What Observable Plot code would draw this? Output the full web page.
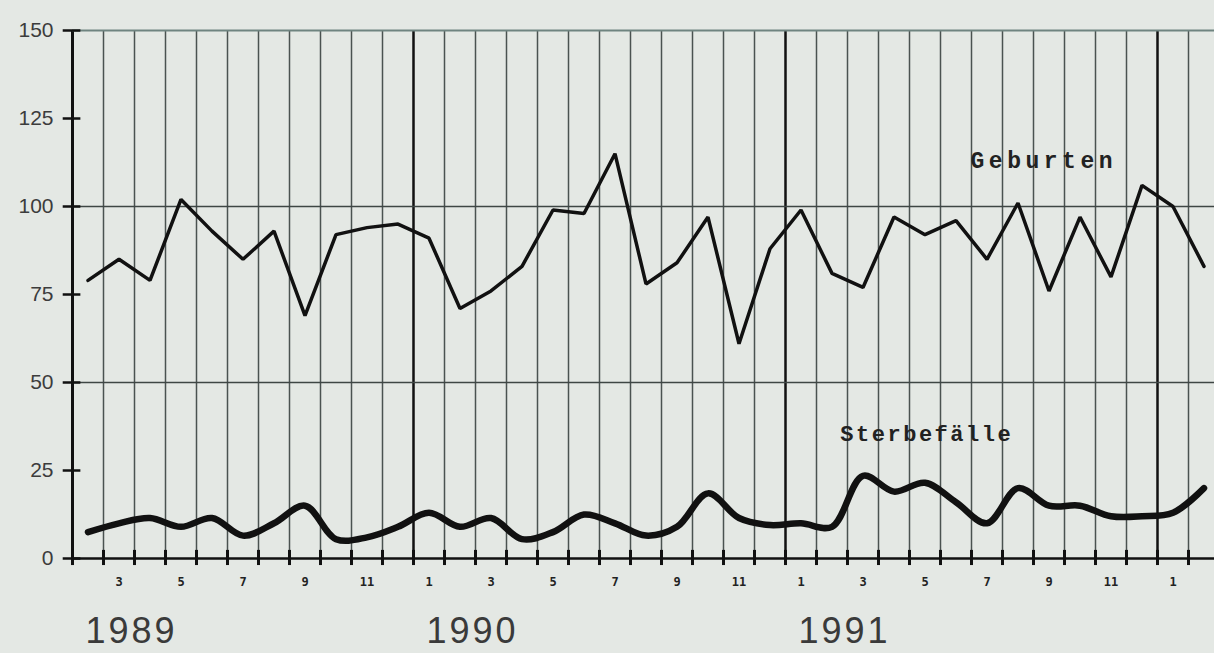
<!DOCTYPE html>
<html>
<head>
<meta charset="utf-8">
<script src="https://cdn.jsdelivr.net/npm/d3@7"></script>
<script src="https://cdn.jsdelivr.net/npm/@observablehq/plot@0.6"></script>
<style>
  html, body { margin: 0; padding: 0; background: #e4e8e4; overflow: hidden; }
  #chart { width: 1214px; height: 653px; }
</style>
</head>
<body>
<div id="chart"></div>
<script>
// Monthly periods, Feb 1989 – Feb 1992
const periods = [
  "1989-02","1989-03","1989-04","1989-05","1989-06","1989-07","1989-08","1989-09","1989-10","1989-11","1989-12",
  "1990-01","1990-02","1990-03","1990-04","1990-05","1990-06","1990-07","1990-08","1990-09","1990-10","1990-11","1990-12",
  "1991-01","1991-02","1991-03","1991-04","1991-05","1991-06","1991-07","1991-08","1991-09","1991-10","1991-11","1991-12",
  "1992-01","1992-02"
];
// Geburten (births)
const geburten = [
  79, 85, 79, 102, 93, 85, 93, 69, 92, 94, 95,
  91, 71, 76, 83, 99, 98, 115, 78, 84, 97, 61, 88,
  99, 81, 77, 97, 92, 96, 85, 101, 76, 97, 80, 106,
  100, 83
];
// Sterbefälle (deaths)
const sterbefaelle = [
  7.5, 10, 11.5, 9, 11.5, 6.5, 10, 15, 5.5, 6, 9,
  13, 9, 11.5, 5.5, 7.5, 12.5, 10, 6.5, 9, 18.5, 11.5, 9.5,
  10, 9, 23.5, 19, 21.5, 16, 10, 20, 15, 15, 12, 12,
  13, 20
];
const yTicks = [0, 25, 50, 75, 100, 125, 150];
const yGrid = [50, 100];
const monthLabelMonths = [3, 5, 7, 9, 11, 1];
const yearLabels = [1989, 1990, 1991];
const seriesNames = ["Geburten", "Sterbefälle"];

// build table
const rows = periods.map((p, i) => ({
  i, x: i + 0.5, year: +p.slice(0, 4), month: +p.slice(5, 7),
  geburten: geburten[i], sterbe: sterbefaelle[i]
}));
const boundaries = d3.range(periods.length + 1);
const yearStarts = boundaries.filter(b => b === 0 || (rows[b] && rows[b].month === 1));
const monthBounds = boundaries.filter(b => !yearStarts.includes(b));
const monthLabelRows = rows.filter(r => monthLabelMonths.includes(r.month));
const yearRows = yearLabels.map(y => ({ year: y, i: rows.find(r => r.year === y).i }));

const W = 1214, H = 653, ML = 72, MR = 0, bandPx = 31;

const plot = Plot.plot({
  width: W,
  height: H,
  marginLeft: ML,
  marginRight: MR,
  marginTop: 30,
  marginBottom: 95,
  style: { background: "#e4e8e4", fontFamily: "Liberation Sans, Arial, sans-serif", overflow: "visible" },
  x: { type: "linear", domain: [0, (W - ML - MR) / bandPx], axis: null },
  y: { domain: [0, 150], axis: null },
  marks: [
    // vertical month gridlines
    Plot.ruleX(monthBounds, { x: d => d, y1: 0, y2: 150, stroke: "#4a5250", strokeWidth: 1.5 }),
    // year boundaries & y axis
    Plot.ruleX(yearStarts, { x: d => d, y1: 0, y2: 150, stroke: "#111", strokeWidth: d => d === 0 ? 3 : 2.5 }),
    // horizontal grid
    Plot.ruleY(yGrid, { y: d => d, stroke: "#3e4644", strokeWidth: 1.5 }),
    Plot.ruleY([150], { y: d => d, stroke: "#6f8480", strokeWidth: 2 }),
    Plot.ruleY([0], { y: d => d, stroke: "#111", strokeWidth: 2.5 }),
    // y tick marks crossing the axis
    Plot.ruleY(yTicks, { y: d => d, x1: -0.3, x2: 0.27, stroke: "#111", strokeWidth: 2.5 }),
    // x tick marks crossing the axis
    Plot.ruleX(boundaries, { x: d => d, y1: -2, y2: 2.3, stroke: "#111", strokeWidth: 3 }),
    // y tick labels
    Plot.text(yTicks, { x: 0, y: d => d, text: d => String(d), textAnchor: "end", dx: -19, fontSize: 21, fill: "#3c3c3c" }),
    // month labels
    Plot.text(monthLabelRows, { x: "x", frameAnchor: "bottom", dy: 27, text: d => String(d.month),
      fontSize: 12, fontWeight: "bold", fontFamily: "DejaVu Sans Mono, monospace", fill: "#222" }),
    // year labels
    Plot.text(yearRows, { x: d => d.i + 0.42, frameAnchor: "bottom", dy: 84, text: d => String(d.year),
      textAnchor: "start", fontSize: 36, fill: "#3a3a3a" }),
    // lines
    Plot.line(rows, { x: "x", y: "geburten", stroke: "#111", strokeWidth: 3.5, strokeLinejoin: "miter" }),
    Plot.line(rows, { x: "x", y: "sterbe", stroke: "#111", strokeWidth: 6.5, curve: "catmull-rom" }),
    // series labels
    Plot.text([seriesNames[0]], { x: 28.97, y: 113, text: d => d, textAnchor: "start",
      fontFamily: "Liberation Mono, Courier New, monospace", fontWeight: "bold", fontSize: 23, fill: "#222" }),
    Plot.text([seriesNames[1]], { x: 24.77, y: 35.5, text: d => d, textAnchor: "start",
      fontFamily: "Liberation Mono, Courier New, monospace", fontWeight: "bold", fontSize: 22, fill: "#222" })
  ]
});

// letter-spacing tweaks
d3.select(plot).selectAll("text").each(function () {
  const t = this.textContent;
  if (yearLabels.map(String).includes(t)) this.style.letterSpacing = "3px";
  if (t === "Geburten") this.style.letterSpacing = "4.5px";
  if (t === "Sterbefälle") this.style.letterSpacing = "2.5px";
});

document.getElementById("chart").appendChild(plot);
</script>
</body>
</html>
